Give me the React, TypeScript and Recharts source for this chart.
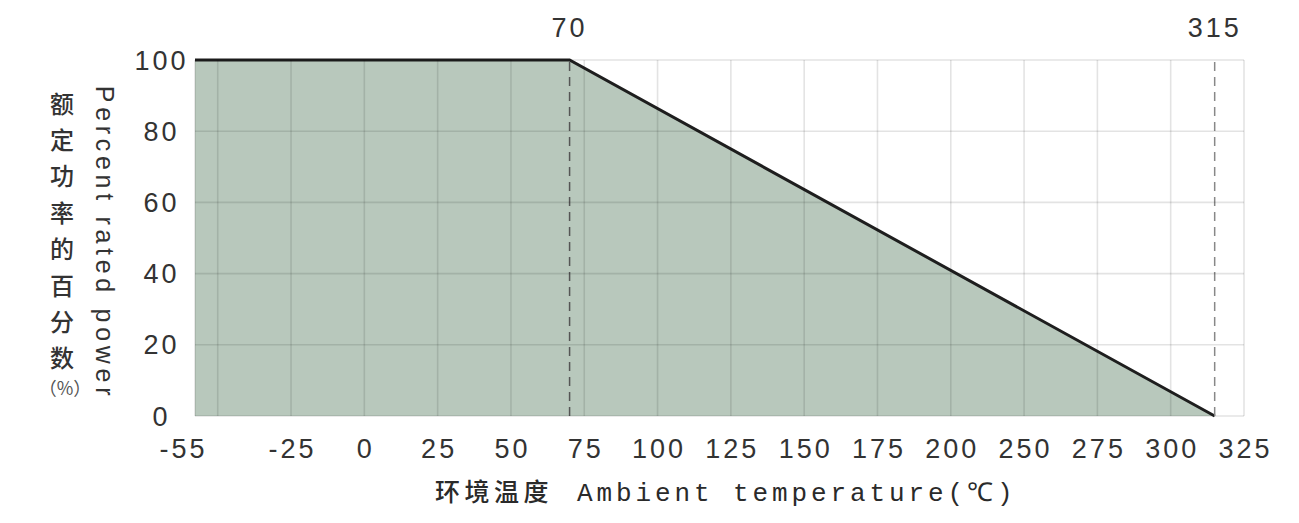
import { AreaChart, Area, XAxis, YAxis, CartesianGrid, ReferenceLine } from "recharts";

// tick labels along the temperature axis (they are spaced evenly, not linearly)
const tempTicks = [-55, -25, 0, 25, 50, 75, 100, 125, 150, 175, 200, 250, 275, 300, 325];
const powerTicks = [0, 20, 40, 60, 80, 100];

// derating curve
const temps = [-55, 70, 315];
const power = [100, 100, 0];

// marked temperatures
const marks = [70, 315];

const W = 1283;
const H = 507;
const LEFT = -0.31; // axis starts a bit before the first grid slot

const slotOfTick = (i: number) => (i === 0 ? LEFT : i);

// piecewise map of a temperature onto the evenly spaced tick slots
const toSlot = (t: number) => {
  for (let i = 0; i < tempTicks.length - 1; i++) {
    const a = tempTicks[i], b = tempTicks[i + 1];
    if (t >= a && t <= b) {
      const s0 = slotOfTick(i), s1 = slotOfTick(i + 1);
      return s0 + ((t - a) / (b - a)) * (s1 - s0);
    }
  }
  return slotOfTick(tempTicks.length - 1);
};

const data = temps.map((t, i) => ({ slot: toSlot(t), power: power[i] }));

const xTickSlots = [LEFT, 0, ...tempTicks.slice(1).map((_, i) => i + 1)];
const labelFor = (v: number) => {
  if (v === LEFT) return String(tempTicks[0]);
  if (v === 0) return "";
  return String(tempTicks[v]);
};

const numFont = { fontFamily: "'Liberation Sans', Arial, sans-serif", fontSize: 27, letterSpacing: 3, fill: "#333" };

const XTick = ({ x, y, payload }: any) => (
  <text x={x + (payload.value === LEFT ? -13 : 0) + 1.5} y={y + 42} textAnchor="middle" {...numFont}>
    {labelFor(payload.value)}
  </text>
);

const YTick = ({ x, y, payload }: any) => (
  <text x={x - 33.5} y={y + 9.5} textAnchor="middle" {...numFont}>
    {payload.value}
  </text>
);

const cjkTitle = "额定功率的百分数";

export default function App() {
  return (
    <div style={{ position: "relative", width: W, height: H }}>
      <AreaChart width={W} height={H} data={data} margin={{ top: 52, right: 47, bottom: 69, left: 127 }}>
        <XAxis
          type="number"
          dataKey="slot"
          domain={[LEFT, 14]}
          ticks={xTickSlots}
          interval={0}
          allowDataOverflow
          axisLine={false}
          tickLine={false}
          tickSize={0}
          tickMargin={0}
          height={30}
          tick={XTick}
        />
        <YAxis
          domain={[0, 100]}
          ticks={powerTicks}
          interval={0}
          axisLine={false}
          tickLine={false}
          tickSize={0}
          tickMargin={0}
          width={60}
          tick={YTick}
        />
        <Area
          type="linear"
          dataKey="power"
          stroke="#1e1e1e"
          strokeWidth={3}
          fill="#b8c8bc"
          fillOpacity={1}
          dot={false}
          activeDot={false}
          isAnimationActive={false}
        />
        <CartesianGrid stroke="rgba(0,0,0,0.11)" strokeWidth={1.6} zIndex={500} />
        {marks.map((m, i) => (
          <ReferenceLine
            key={m}
            x={toSlot(m)}
            stroke={i === 0 ? "#555" : "#888"}
            strokeDasharray="9 6"
            strokeWidth={1.5}
            label={{ value: String(m), position: "top", offset: 23, ...numFont }}
          />
        ))}
      </AreaChart>

      <svg width={W} height={H} style={{ position: "absolute", left: 0, top: 0, pointerEvents: "none" }}>
        {cjkTitle.split("").map((ch, i) => (
          <text
            key={i}
            x={54}
            y={94 + i * 36.4}
            textAnchor="middle"
            dominantBaseline="central"
            fontFamily="'Noto Sans CJK SC', sans-serif"
            fontSize={24}
            fontWeight={500}
            fill="#333"
          >
            {ch}
          </text>
        ))}
        <text
          x={57}
          y={379}
          textAnchor="middle"
          dominantBaseline="central"
          fontFamily="'Noto Sans CJK SC', sans-serif"
          fontSize={18}
          fill="#555"
        >
          （%）
        </text>
        <text
          x={97}
          y={235}
          transform="rotate(90 97 235)"
          textAnchor="middle"
          dominantBaseline="central"
          fontFamily="'Liberation Sans', Arial, sans-serif"
          fontSize={25}
          letterSpacing={4.7}
          fill="#333"
        >
          Percent rated power
        </text>
        <text x={427} y={493} fontFamily="'Noto Sans CJK SC', sans-serif" fontSize={25} fontWeight={500} letterSpacing={4.5} fill="#2a2a2a">
          环境温度
        </text>
        <text x={569} y={493} fontFamily="'Liberation Mono', monospace" fontSize={26} letterSpacing={3.9} fill="#2a2a2a">
          Ambient temperature(℃)
        </text>
      </svg>
    </div>
  );
}
